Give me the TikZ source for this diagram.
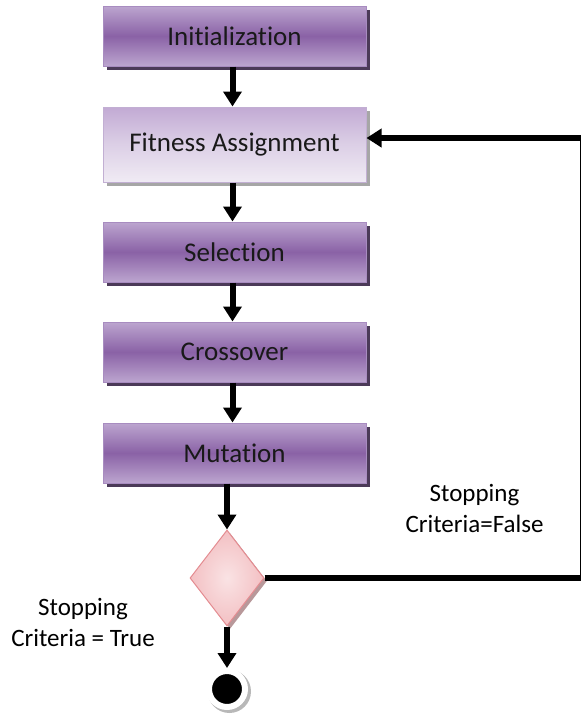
\documentclass[tikz,border=0pt]{standalone}
\usepackage{fontspec}
\setmainfont{Carlito}[Ligatures=NoCommon]
\usetikzlibrary{shapes.geometric, arrows.meta, shadows}

\definecolor{boxdark}{HTML}{8A62A6}
\definecolor{boxlight}{HTML}{BCA5CF}
\definecolor{boxedge}{HTML}{A88CC0}
\definecolor{boxshade}{HTML}{4B3A58}
\definecolor{fitdark}{HTML}{C2AAD4}
\definecolor{fitmid}{HTML}{DCCFE6}
\definecolor{fitlight}{HTML}{F0EBF4}
\definecolor{decfill}{HTML}{F3C0C3}
\definecolor{decedge}{HTML}{E48C91}

\begin{document}
\begin{tikzpicture}[x = 1pt, y = -1pt]
    \tikzstyle{stage}=[draw=boxedge,line width = 1pt,minimum width = 263pt,minimum height = 60pt,
        top color=boxlight,bottom color=boxlight,middle color=boxdark,text=black!90,
        font=\fontsize{27}{31}\selectfont,
        drop shadow={shadow xshift=3.5pt,shadow yshift=-3.5pt,fill=boxshade,opacity=1}]
    \tikzstyle{fitness}=[stage,minimum height = 75pt,draw=boxedge!70,
        top color=fitdark,bottom color=fitlight,middle color=fitmid,
        drop shadow={shadow xshift=3.5pt,shadow yshift=-3.5pt,fill=black!35,opacity=1}]
    \tikzstyle{test}=[diamond,draw=decedge,line width = 1pt,inner sep = 0pt,
        minimum width = 74pt,minimum height = 96pt,inner color=decfill!45!white,outer color=decfill,
        drop shadow={shadow xshift=3pt,shadow yshift=-3pt,fill=decedge!60!black!60,opacity=1}]
    \tikzstyle{final}=[circle,fill=black,draw=white,line width = 6pt,minimum size = 36pt,inner sep = 0pt,
        drop shadow={shadow scale=1.2,shadow xshift=2pt,shadow yshift=-2pt,fill=black!28,opacity=1}]
    \tikzstyle{flow}=[draw,line width = 6pt,black,-{Triangle[length=15pt,width=18pt]}]
    \tikzstyle{note}=[align=center,font=\fontsize{25}{31}\selectfont]
    \useasboundingbox (0,0) rectangle (581,716);
    \node[stage] (init) at (234.5,36) {Initialization};
    \node[fitness] (fit) at (234.5,144.5) {Fitness Assignment};
    \node[stage] (sel) at (234.5,252) {Selection};
    \node[stage] (cross) at (234.5,352) {Crossover};
    \node[stage] (mut) at (234.5,453) {Mutation};
    \node[test] (dec) at (227,578) {};
    \node[final] (end) at (227,689) {};
    \coordinate (ret) at (583,138);
    \node[note] (nofalse) at (474.5,508) {Stopping\\Criteria=False};
    \node[note] (notrue) at (83,622) {Stopping\\Criteria = True};
    \draw[flow] ([xshift=-2pt]init.south) -- ([xshift=-2pt]fit.north);
    \draw[flow] ([xshift=-2pt]fit.south) -- ([xshift=-2pt]sel.north);
    \draw[flow] ([xshift=-2pt]sel.south) -- ([xshift=-2pt]cross.north);
    \draw[flow] ([xshift=-2pt]cross.south) -- ([xshift=-2pt]mut.north);
    \draw[flow] (mut.south -| dec.north) -- (dec.north);
    \draw[flow] (dec.south) -- (end.north);
    \draw[flow] (dec.east) -| (ret) -- (fit.east |- ret);
\end{tikzpicture}
\end{document}
